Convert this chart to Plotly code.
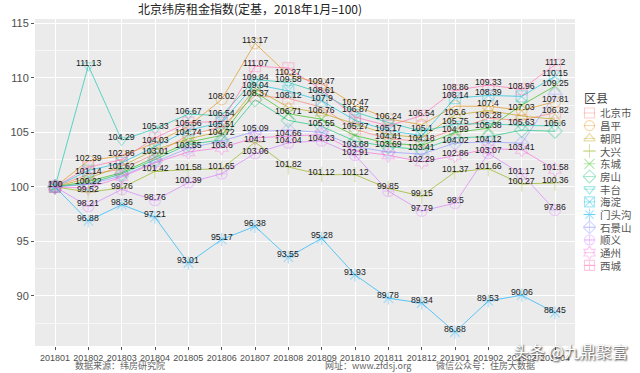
import plotly.graph_objects as go

months = ["201801", "201802", "201803", "201804", "201805", "201806", "201807", "201808",
          "201809", "201810", "201811", "201812", "201901", "201902", "201903", "201904"]

districts = ["北京市", "昌平", "朝阳", "大兴", "东城", "房山", "丰台", "海淀",
             "门头沟", "石景山", "顺义", "通州", "西城"]

beijing = [100, 101.14, 101.62, 103.01, 104.74, 105.51, 108.37, 108.12, 107.3, 105.27, 104.41, 104.18, 105.3, 106.28, 106.1, 106.82]
changping = [100, 102.39, 102.86, 104.03, 105.56, 108.02, 113.17, 110.27, 109.47, 107.47, 106.24, 105.7, 107.4, 107.4, 107.03, 107.81]
chaoyang = [100, 100.8, 101.9, 103.4, 104.4, 105.1, 109.04, 107.3, 106.76, 105.8, 104.8, 104.5, 106.6, 107.0, 106.5, 106.2]
daxing = [100, 99.52, 99.9, 101.42, 101.58, 101.65, 104.1, 101.82, 101.12, 101.12, 99.85, 99.15, 101.37, 101.66, 100.27, 100.36]
dongcheng = [100, 100.5, 101.3, 102.7, 104.1, 104.72, 108.7, 106.71, 106.2, 104.7, 104.0, 103.8, 104.99, 105.38, 107.5, 109.25]
fangshan = [100, 100.3, 101.2, 102.5, 103.9, 104.3, 108.0, 106.1, 105.55, 104.2, 103.69, 103.41, 104.5, 104.6, 105.2, 105.1]
fengtai = [100, 111.13, 104.29, 105.33, 106.67, 106.54, 109.84, 109.58, 108.61, 106.87, 105.9, 105.1, 105.75, 105.8, 105.63, 105.6]
haidian = [100, 101.5, 102.2, 103.7, 105.2, 105.9, 109.4, 108.8, 107.9, 106.1, 105.17, 104.7, 108.14, 108.39, 108.3, 110.15]
mentougou = [100, 96.88, 98.36, 97.21, 93.01, 95.17, 96.38, 93.55, 95.28, 91.93, 89.78, 89.34, 86.68, 89.53, 90.06, 88.45]
shijingshan = [100, 100.22, 101.0, 102.3, 103.55, 104.2, 105.09, 105.2, 105.0, 103.68, 103.2, 103.0, 104.02, 104.12, 104.0, 108.5]
shunyi = [100, 98.21, 99.76, 98.76, 100.39, 101.2, 103.06, 104.04, 104.23, 102.91, 99.6, 97.79, 98.5, 103.07, 101.17, 97.86]
tongzhou = [100, 99.9, 100.9, 102.2, 103.2, 103.6, 104.5, 104.66, 104.8, 103.3, 102.9, 102.29, 102.86, 103.5, 103.41, 101.58]
xicheng = [100, 101.8, 102.5, 104.5, 105.9, 106.0, 111.07, 110.9, 108.9, 106.4, 105.6, 106.54, 108.86, 109.33, 108.96, 111.2]

series = [beijing, changping, chaoyang, daxing, dongcheng, fangshan, fengtai, haidian,
          mentougou, shijingshan, shunyi, tongzhou, xicheng]

# value labels that are legible in the picture (others overlap and are hidden)
shown_labels = [
    [100],
    [111.13, 102.39, 101.14, 100.22, 99.52, 98.21, 96.88],
    [104.29, 102.86, 101.62, 99.76, 98.36],
    [105.33, 104.03, 103.01, 101.42, 98.76, 97.21],
    [106.67, 105.56, 104.74, 103.55, 101.58, 100.39, 93.01],
    [108.02, 106.54, 105.51, 104.72, 103.6, 101.65, 95.17],
    [113.17, 111.07, 109.84, 109.04, 108.37, 105.09, 104.1, 103.06, 96.38],
    [110.27, 109.58, 108.12, 106.71, 104.66, 104.04, 101.82, 93.55],
    [109.47, 108.61, 107.9, 106.76, 105.55, 104.23, 101.12, 95.28],
    [107.47, 106.87, 105.27, 103.68, 102.91, 101.12, 91.93],
    [106.24, 105.17, 104.41, 103.69, 99.85, 89.78],
    [106.54, 105.1, 104.18, 103.41, 102.29, 99.15, 97.79, 89.34],
    [108.86, 108.14, 106.6, 105.75, 104.99, 104.02, 102.86, 101.37, 98.5, 86.68],
    [109.33, 108.39, 107.4, 106.28, 105.38, 104.12, 103.07, 101.66, 89.53],
    [108.96, 107.03, 105.63, 103.41, 101.17, 100.27, 90.06],
    [111.2, 110.15, 109.25, 107.81, 106.82, 105.6, 101.58, 100.36, 97.86, 88.45],
]

colors = ["#F8766D", "#E18A00", "#BE9C00", "#8CAB00", "#24B700", "#00BE70", "#00C1AB",
          "#00BBDA", "#00ACFC", "#8B93FF", "#D575FE", "#F962DD", "#FF65AC"]
symbols = ["square-open", "circle-open", "triangle-up-open", "cross-thin-open", "x-thin-open",
           "diamond-open", "triangle-down-open", "square-x-open", "asterisk-open",
           "diamond-cross-open", "circle-cross-open", "hexagram-open", "square-cross-open"]


def rgba(hx, a):
    hx = hx.lstrip("#")
    r, g, b = int(hx[0:2], 16), int(hx[2:4], 16), int(hx[4:6], 16)
    return f"rgba({r},{g},{b},{a})"


# paper area: 35px .. 635px horizontally (600px), 19px .. 346px vertically (327px)
PW, PL = 600.0, 35.0
main_right = (575 - PL) / PW

fig = go.Figure()

# grey panel background (only under the main plot)
fig.add_shape(type="rect", xref="x domain", yref="y domain", x0=0, x1=1, y0=0, y1=1,
              fillcolor="#EBEBEB", line=dict(width=0), layer="below")

for name, vals, col, sym in zip(districts, series, colors, symbols):
    fig.add_trace(go.Scatter(
        x=months, y=vals, name=name, mode="lines+markers", showlegend=False,
        line=dict(color=rgba(col, 0.62), width=1),
        marker=dict(symbol=sym, size=11, color=rgba(col, 0.3),
                    line=dict(width=1.2, color=rgba(col, 0.3))),
    ))

# value labels
for mi, labs in enumerate(shown_labels):
    remaining = list(labs)
    for vals in series:
        v = vals[mi]
        for k, lv in enumerate(remaining):
            if abs(lv - v) < 1e-6:
                fig.add_annotation(x=mi, y=v, xref="x", yref="y", text=f"{v:g}", showarrow=False,
                                   yshift=3,
                                   font=dict(family="Liberation Sans, Arial", size=8.7, color="#1a1a1a"))
                remaining.pop(k)
                break

# hand-built legend (keys drawn on a small helper axis)
for i, (name, col, sym) in enumerate(zip(districts, colors, symbols)):
    fig.add_trace(go.Scatter(
        x=[0.05, 0.5, 0.95], y=[-i, -i, -i], xaxis="x2", yaxis="y2", mode="lines",
        line=dict(color=rgba(col, 0.35), width=1), showlegend=False, hoverinfo="skip"))
    fig.add_trace(go.Scatter(
        x=[0.5], y=[-i], xaxis="x2", yaxis="y2", mode="markers", showlegend=False,
        marker=dict(symbol=sym, size=10, color=rgba(col, 0.35),
                    line=dict(width=1.1, color=rgba(col, 0.35))), hoverinfo="skip"))
    fig.add_annotation(text=name, xref="paper", yref="y2", x=(598 - PL) / PW, y=-i,
                       xanchor="left", yanchor="middle", showarrow=False,
                       font=dict(family="Noto Sans CJK SC", size=10.5, color="#555"))
fig.add_annotation(text="区县", xref="paper", yref="y2", x=(582 - PL) / PW, y=1.25,
                   xanchor="left", yanchor="middle", showarrow=False,
                   font=dict(family="Noto Sans CJK SC", size=12, color="#444"))

fig.update_layout(
    width=640, height=373,
    margin=dict(l=35, r=5, t=19, b=27, autoexpand=False),
    paper_bgcolor="white",
    plot_bgcolor="white",
    showlegend=False,
    title=dict(text="北京纬房租金指数(定基，2018年1月=100)", x=250 / 640, xanchor="center",
               y=1 - 10 / 373, yanchor="middle",
               font=dict(family="Noto Sans CJK SC", size=12, color="#222")),
    xaxis=dict(domain=[0, main_right], type="category", range=[-0.6, 15.6], showgrid=True,
               gridcolor="white", gridwidth=1.2, tickangle=0, automargin=False,
               ticks="outside", ticklen=3, tickcolor="#555", zeroline=False,
               tickfont=dict(family="Liberation Sans, Arial", size=9, color="#4d4d4d")),
    yaxis=dict(range=[85.4, 115.4], tickvals=[90, 95, 100, 105, 110, 115], showgrid=True,
               gridcolor="white", gridwidth=1.2, ticks="outside", ticklen=3, tickcolor="#555",
               zeroline=False, automargin=False,
               minor=dict(tickvals=[87.5, 92.5, 97.5, 102.5, 107.5, 112.5], showgrid=True,
                          gridcolor="rgba(255,255,255,0.6)", gridwidth=0.6, ticks=""),
               tickfont=dict(family="Liberation Sans, Arial", size=11, color="#4d4d4d")),
    xaxis2=dict(domain=[(583 - PL) / PW, (596 - PL) / PW], range=[0, 1], visible=False,
                anchor="y2", fixedrange=True, automargin=False),
    yaxis2=dict(domain=[0, 1], range=[-18.35, 7.4], visible=False, anchor="x2", fixedrange=True,
                automargin=False),
)

cap_font = dict(family="Noto Sans CJK SC", size=9, color="#666")
fig.add_annotation(text="数据来源：纬房研究院", xref="paper", yref="paper", x=(120 - PL) / PW, y=0,
                   xanchor="center", yanchor="middle", yshift=-19, showarrow=False, font=cap_font)
fig.add_annotation(text="网址：www.zfdsj.org", xref="paper", yref="paper", x=(368 - PL) / PW, y=0,
                   xanchor="center", yanchor="middle", yshift=-19, showarrow=False, font=cap_font)
fig.add_annotation(text="微信公众号：住房大数据", xref="paper", yref="paper", x=(485 - PL) / PW, y=0,
                   xanchor="center", yanchor="middle", yshift=-19, showarrow=False, font=cap_font)
fig.add_annotation(text="头条 @九鼎聚富", xref="paper", yref="paper", x=(570 - PL) / PW, y=0,
                   xanchor="center", yanchor="middle", yshift=-5, showarrow=False,
                   font=dict(family="Noto Sans CJK SC", size=16, color="white",
                             shadow="1px 1px 2px #222"))

# place the figure at the window's top-left corner (remove the page's default body margin)
fig.write_html("out.html", config={"displayModeBar": False},
               post_script="document.body.style.margin='0';")
